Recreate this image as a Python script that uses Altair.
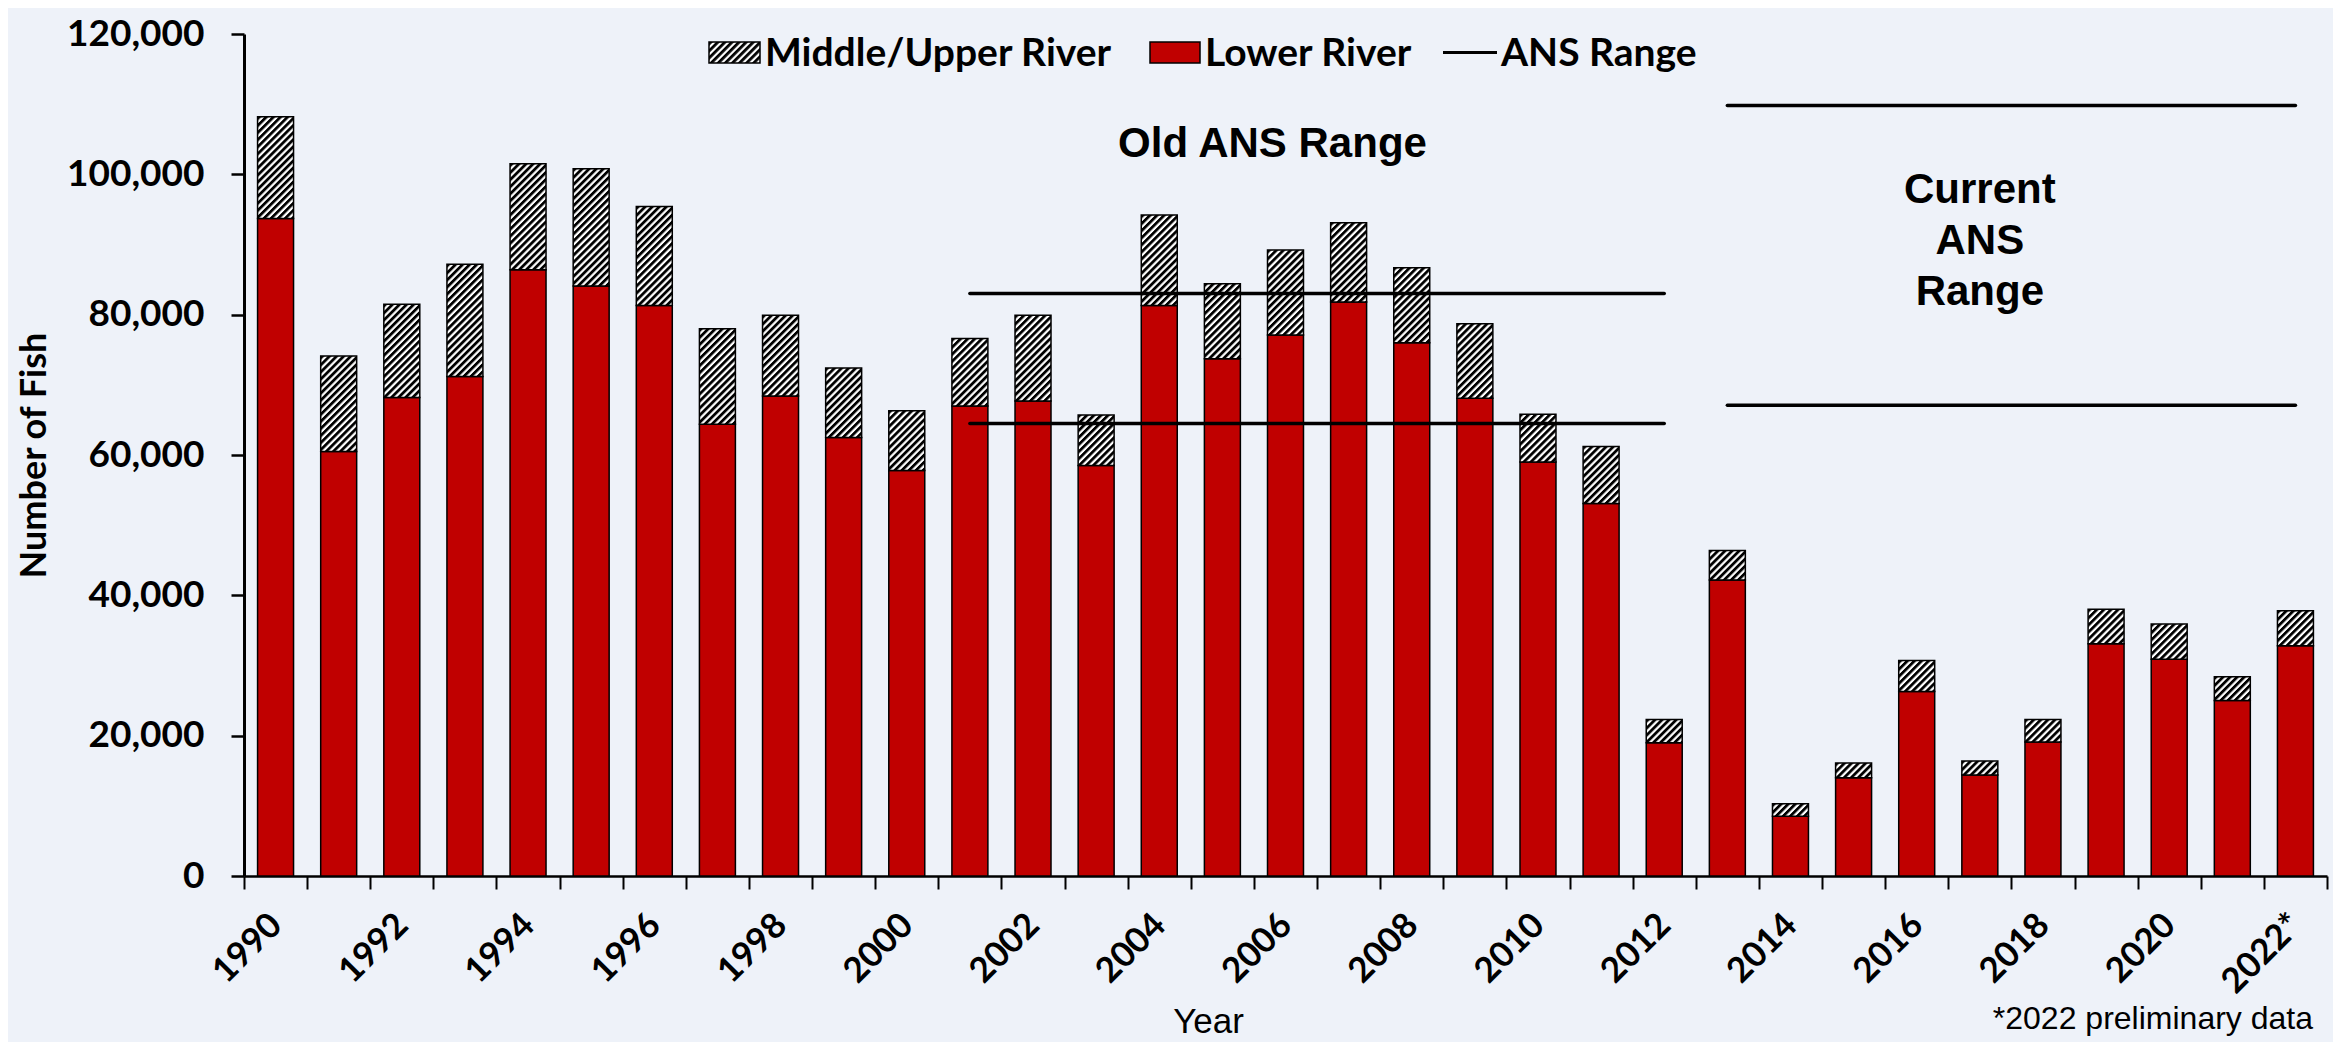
import base64
import altair as alt
import pandas as pd

# ---------------- data ----------------
years = [str(y) for y in range(1990, 2023)]
lower_river = [93700, 60500, 68200, 71200, 86400, 84100, 81300, 64400, 68400, 62500,
               57800, 67000, 67700, 58500, 81300, 73700, 77100, 81800, 76000, 68100,
               59000, 53100, 19000, 42200, 8500, 14000, 26300, 14400, 19100, 33100,
               30900, 25000, 32800]
middle_upper_river = [14500, 13600, 13300, 16000, 15100, 16700, 14100, 13600, 11500, 9900,
                      8500, 9600, 12200, 7200, 12900, 10700, 12100, 11300, 10700, 10600,
                      6800, 8100, 3300, 4200, 1800, 2100, 4400, 2000, 3200, 4900,
                      5000, 3400, 5000]
ans_labels = ["Old", "Old", "Current", "Current"]
ans_start = ["2001", "2001", "2013", "2013"]
ans_end = ["2012", "2012", "2022", "2022"]
ans_value = [64500, 83000, 67100, 109800]
y_ticks = [0, 20000, 40000, 60000, 80000, 100000, 120000]

df = pd.DataFrame({"year": years, "lower": lower_river, "middle": middle_upper_river})
df["total"] = df["lower"] + df["middle"]
ans_df = pd.DataFrame({"range": ans_labels, "start": ans_start, "end": ans_end, "value": ans_value})
note_df = pd.DataFrame({"year": ["2006", "2017"], "value": [104300, 97700],
                        "label": ["Old ANS Range", "Current\nANS\nRange"]})

# ---------------- styles ----------------
RED = "#C00000"
BG = "#EEF2F9"
TOP = 26
W, H = 2083, 842
BAR_BAND = 0.57

# hatch tile: no intrinsic size, so it is laid out at the bar's own size (not stretched)
hatch_svg = (
    "<svg xmlns='http://www.w3.org/2000/svg' width='100%' height='100%'>"
    "<defs><pattern id='h' width='5' height='5' patternUnits='userSpaceOnUse' "
    "patternTransform='rotate(45)'>"
    "<rect width='5' height='5' fill='white'/><rect width='2.8' height='5' fill='black'/>"
    "</pattern></defs><rect width='100%' height='100%' fill='url(#h)'/></svg>"
)
hatch_url = "data:image/svg+xml;base64," + base64.b64encode(hatch_svg.encode()).decode()

x_enc = alt.X(
    "year:O",
    scale=alt.Scale(domain=years, paddingInner=0, paddingOuter=0),
    axis=alt.Axis(
        title="Year", labelAngle=315, labelAlign="right", labelBaseline="middle",
        labelExpr="toNumber(datum.value) % 2 == 0 ? (datum.value == '2022' ? '2022*' : datum.value) : ''",
        tickBand="extent", tickSize=13, tickWidth=2, tickColor="black",
        domainColor="black", domainWidth=2.5,
        labelFont="Lato", labelFontWeight="bold", labelFontSize=35, labelColor="black",
        labelPadding=30, labelOverlap=False, labelBound=False,
        titleFont="Liberation Sans", titleFontWeight="normal", titleFontSize=35,
        titleColor="black", titleX=964, titleY=156, titleBaseline="alphabetic",
        titleAlign="center",
    ),
)
y_scale = alt.Scale(domain=[0, 120000], nice=False, zero=True)
y_axis = alt.Axis(
    values=y_ticks, format=",", labelExpr="format(datum.value, ',')",
    title="Number of Fish", grid=False,
    tickSize=13, tickWidth=2.5, tickColor="black", domainColor="black", domainWidth=3,
    labelFont="Lato", labelFontWeight="bold", labelFontSize=37, labelColor="black",
    labelPadding=27,
    titleFont="Lato", titleFontWeight="bold", titleFontSize=36, titleColor="black",
    titlePadding=13,
)

base = alt.Chart(df)

red_bars = base.mark_bar(
    fill=RED, stroke="black", strokeWidth=1.5, width=alt.RelativeBandSize(BAR_BAND)
).encode(x=x_enc, y=alt.Y("lower:Q", scale=y_scale, axis=y_axis, stack=None))

hatch_img = base.mark_image(
    url=hatch_url, aspect=False, width=alt.RelativeBandSize(BAR_BAND)
).encode(x="year:O", y=alt.Y("total:Q", axis=y_axis), y2="lower:Q")

hatch_outline = base.mark_bar(
    fill="white", fillOpacity=0, stroke="black", strokeWidth=1.5,
    width=alt.RelativeBandSize(BAR_BAND)
).encode(x="year:O", y=alt.Y("total:Q", stack=None, axis=y_axis), y2="lower:Q")

ans_rules = alt.Chart(ans_df).mark_rule(
    color="black", strokeWidth=3.5, strokeCap="round"
).encode(x="start:O", x2="end:O", y=alt.Y("value:Q", axis=y_axis))

ans_text = alt.Chart(note_df).transform_filter("datum.year == '2006'").mark_text(
    font="Liberation Sans", fontWeight="bold", fontSize=42, color="black",
    align="center", baseline="middle", dx=-13
).encode(x="year:O", y=alt.Y("value:Q", axis=y_axis), text="label:N")

cur_text = alt.Chart(note_df).transform_filter("datum.year == '2017'").mark_text(
    font="Liberation Sans", fontWeight="bold", fontSize=42, color="black",
    align="center", baseline="middle", lineBreak="\n", lineHeight=51
).encode(x="year:O", y=alt.Y("value:Q", axis=y_axis), text="label:N")

# ---------------- manual legend + footnote (pixel positions, relative to plot) ----------------
one = alt.Data(values=[{}])
LY1, LY2, LYC = 8, 29, 18.5
leg_hatch = alt.Chart(one).mark_image(url=hatch_url, aspect=False).encode(
    x=alt.value(465), x2=alt.value(516), y=alt.value(LY1), y2=alt.value(LY2))
leg_hatch_box = alt.Chart(one).mark_rect(
    fill="white", fillOpacity=0, stroke="black", strokeWidth=1.5).encode(
    x=alt.value(465), x2=alt.value(516), y=alt.value(LY1), y2=alt.value(LY2))
leg_red = alt.Chart(one).mark_rect(fill=RED, stroke="black", strokeWidth=1.5).encode(
    x=alt.value(906), x2=alt.value(956), y=alt.value(LY1), y2=alt.value(LY2))
leg_line = alt.Chart(one).mark_rule(color="black", strokeWidth=3).encode(
    x=alt.value(1199), x2=alt.value(1253), y=alt.value(LYC))

def leg_text(txt, xpos):
    return alt.Chart(one).mark_text(
        text=txt, font="Lato", fontWeight="bold", fontSize=39, color="black",
        align="left", baseline="middle").encode(x=alt.value(xpos), y=alt.value(LYC + 1))

footnote = alt.Chart(one).mark_text(
    text="*2022 preliminary data", font="Liberation Sans", fontSize=32, color="black",
    align="right", baseline="alphabetic").encode(x=alt.value(2069), y=alt.value(995))

chart = alt.layer(
    red_bars, hatch_img, hatch_outline, ans_rules, ans_text, cur_text,
    leg_hatch, leg_hatch_box, leg_red, leg_line,
    leg_text("Middle/Upper River", 521), leg_text("Lower River", 961),
    leg_text("ANS Range", 1257), footnote,
).properties(
    width=W, height=H,
    autosize=alt.AutoSizeParams(type="none"),
    padding={"left": 236, "top": TOP, "right": 6, "bottom": 166},
).configure(background=BG).configure_view(stroke=None)

chart.save("out.html", embed_options={"renderer": "svg", "actions": False})
